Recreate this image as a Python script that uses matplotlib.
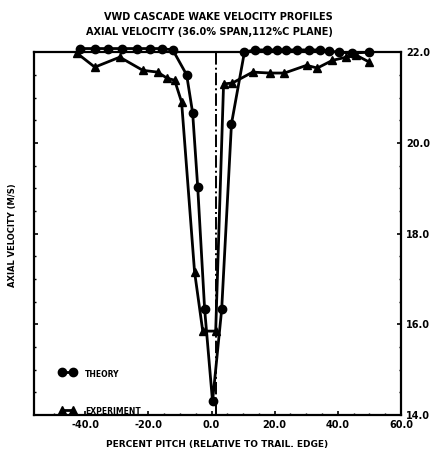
import numpy as np
import matplotlib.pyplot as plt

# theory (circles)
theory_x = [-41.8, -37.0, -32.9, -28.5, -23.7, -19.6, -15.8, -12.3, -7.9, -6.0, -4.4, -2.2, 0.3,
            3.2, 6.3, 10.4, 13.6, 17.4, 20.6, 23.7, 27.2, 31.0, 34.2, 37.3, 40.5, 44.6, 50.0]
theory_y = [22.08, 22.08, 22.08, 22.08, 22.08, 22.08, 22.08, 22.05, 21.5, 20.66, 19.03, 16.33, 14.3,
            16.33, 20.42, 22.0, 22.05, 22.05, 22.05, 22.05, 22.05, 22.05, 22.05, 22.02, 22.0, 21.98, 22.0]

# experiment (triangles)
exp_x = [-42.7, -37.0, -29.1, -21.8, -17.1, -14.2, -11.7, -9.5, -5.4, -2.8, 1.3,
         3.8, 6.6, 13.0, 18.4, 23.1, 30.1, 33.5, 38.3, 42.7, 45.9, 50.0]
exp_y = [21.98, 21.67, 21.89, 21.6, 21.56, 21.43, 21.38, 20.9, 17.16, 15.85, 15.85,
         21.3, 21.32, 21.56, 21.54, 21.54, 21.71, 21.65, 21.82, 21.89, 21.93, 21.78]

xticks = [-40, -20, 0, 20, 40, 60]
yticks = [14, 16, 18, 20, 22]
trail_edge = 1.5

plt.rcParams['font.family'] = 'DejaVu Sans'
plt.rcParams['font.weight'] = 'bold'

fig = plt.figure(figsize=(4.46, 4.70), dpi=100)
ax = fig.add_axes([0.076, 0.117, 0.823, 0.772])

ax.plot(theory_x, theory_y, color='black', lw=2, marker='o', ms=6, clip_on=False, zorder=3)
ax.plot(exp_x, exp_y, color='black', lw=2, marker='^', ms=6, clip_on=False, zorder=3)
ax.axvline(trail_edge, color='black', lw=1.4, ls='-.')

ax.set_xlim(-56.3, 60)
ax.set_ylim(14, 22)
ax.set_xticks(xticks)
ax.set_xticklabels(['%.1f' % v for v in xticks], fontsize=7, fontweight='bold')
ax.set_yticks(yticks)
ax.set_yticklabels(['%.1f' % v for v in yticks], fontsize=7, fontweight='bold')
ax.yaxis.tick_right()
ax.tick_params(direction='in', length=3, width=1.2, left=True, right=True, top=False, bottom=True)
ax.set_xticks(np.arange(-50, 61, 5), minor=True)
ax.set_yticks(np.arange(14, 22.1, 0.5), minor=True)
ax.tick_params(which='minor', direction='in', length=1.5, width=1, left=True, right=True)
for s in ax.spines.values():
    s.set_linewidth(1.6)

ax.set_xlabel('PERCENT PITCH (RELATIVE TO TRAIL. EDGE)', fontsize=6.5, fontweight='bold', labelpad=7)
fig.text(0.027, 0.5, 'AXIAL VELOCITY (M/S)', rotation=90, fontsize=6, fontweight='bold',
         ha='center', va='center')

fig.text(0.49, 0.958, 'VWD CASCADE WAKE VELOCITY PROFILES', fontsize=7, fontweight='bold', ha='center')
fig.text(0.47, 0.925, 'AXIAL VELOCITY (36.0% SPAN,112%C PLANE)', fontsize=7, fontweight='bold', ha='center')

# legend drawn by hand inside the axes
ax.plot([-47.5, -44], [14.95, 14.95], color='black', lw=2, marker='o', ms=6)
ax.text(-40, 14.9, 'THEORY', fontsize=5.5, fontweight='bold', va='center')
ax.plot([-47.5, -44], [14.12, 14.12], color='black', lw=2, marker='^', ms=6, clip_on=False)
ax.text(-40, 14.08, 'EXPERIMENT', fontsize=5.5, fontweight='bold', va='center')

fig.savefig('out.png', dpi=100)
